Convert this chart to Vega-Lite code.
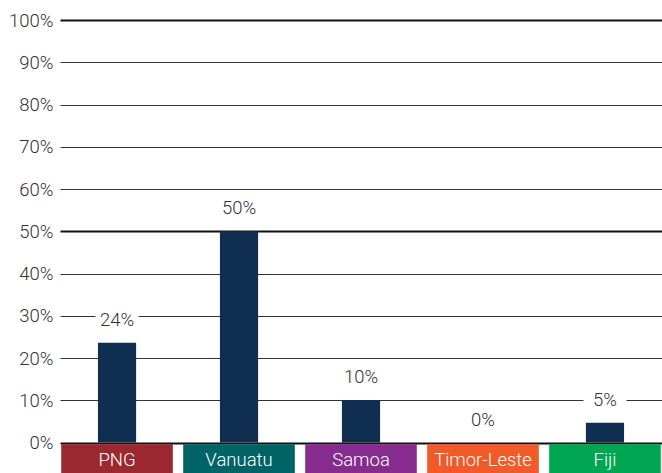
{
  "$schema": "https://vega.github.io/schema/vega-lite/v6.json",
  "autosize": {"type": "none"},
  "padding": {"left": 60, "top": 20, "right": 0, "bottom": 0},
  "width": 602,
  "height": 453,
  "config": {
    "view": {"stroke": null},
    "font": "Roboto",
    "text": {"font": "Roboto", "fontWeight": 300, "fontSize": 18}
  },
  "data": {
    "values": [
      {"country": "PNG", "value": 23.6, "label": "24%"},
      {"country": "Vanuatu", "value": 50, "label": "50%"},
      {"country": "Samoa", "value": 10, "label": "10%"},
      {"country": "Timor-Leste", "value": 0, "label": "0%"},
      {"country": "Fiji", "value": 4.7, "label": "5%"}
    ]
  },
  "encoding": {
    "x": {
      "field": "country",
      "type": "nominal",
      "sort": null,
      "scale": {"paddingInner": 0.085, "paddingOuter": 0.01},
      "axis": null
    }
  },
  "layer": [
    {
      "mark": {"type": "bar", "color": "#0f2e50", "width": {"band": 0.342}},
      "encoding": {
        "y": {
          "field": "value",
          "type": "quantitative",
          "scale": {"domain": [-7.2, 100], "nice": false, "zero": false},
          "axis": {
            "title": null,
            "values": [0, 10, 20, 30, 40, 50, 60, 70, 80, 90, 100],
            "labelExpr": "datum.value + '%'",
            "domain": false,
            "ticks": false,
            "labelPadding": 7,
            "labelFont": "Roboto",
            "labelFontWeight": 300,
            "labelFontSize": 18.5,
            "labelColor": "#333333",
            "grid": true,
            "gridColor": {"condition": {"test": "datum.value % 50 === 0", "value": "#111111"}, "value": "#333333"},
            "gridWidth": {"condition": {"test": "datum.value % 50 === 0", "value": 2}, "value": 1},
            "gridOpacity": 1
          }
        }
      }
    },
    {
      "mark": {"type": "tick", "color": "white", "opacity": 1, "thickness": 20, "size": 43, "yOffset": -23},
      "encoding": {
        "y": {"field": "value", "type": "quantitative"}
      }
    },
    {
      "mark": {"type": "text", "dy": -17, "baseline": "alphabetic", "color": "#333333", "fontSize": 18.5, "fontWeight": 300},
      "encoding": {
        "y": {"field": "value", "type": "quantitative"},
        "text": {"field": "label"}
      }
    },
    {
      "mark": {"type": "bar"},
      "encoding": {
        "y": {"datum": -7.2},
        "y2": {"datum": -0.4},
        "color": {
          "field": "country",
          "type": "nominal",
          "scale": {
            "domain": ["PNG", "Vanuatu", "Samoa", "Timor-Leste", "Fiji"],
            "range": ["#9b2830", "#006466", "#862c8e", "#f15a29", "#00a651"]
          },
          "legend": null
        }
      }
    },
    {
      "mark": {"type": "text", "color": "white", "baseline": "middle", "fontSize": 18.5, "fontWeight": 300},
      "encoding": {
        "y": {"datum": -4.1},
        "text": {"field": "country"}
      }
    }
  ]
}
